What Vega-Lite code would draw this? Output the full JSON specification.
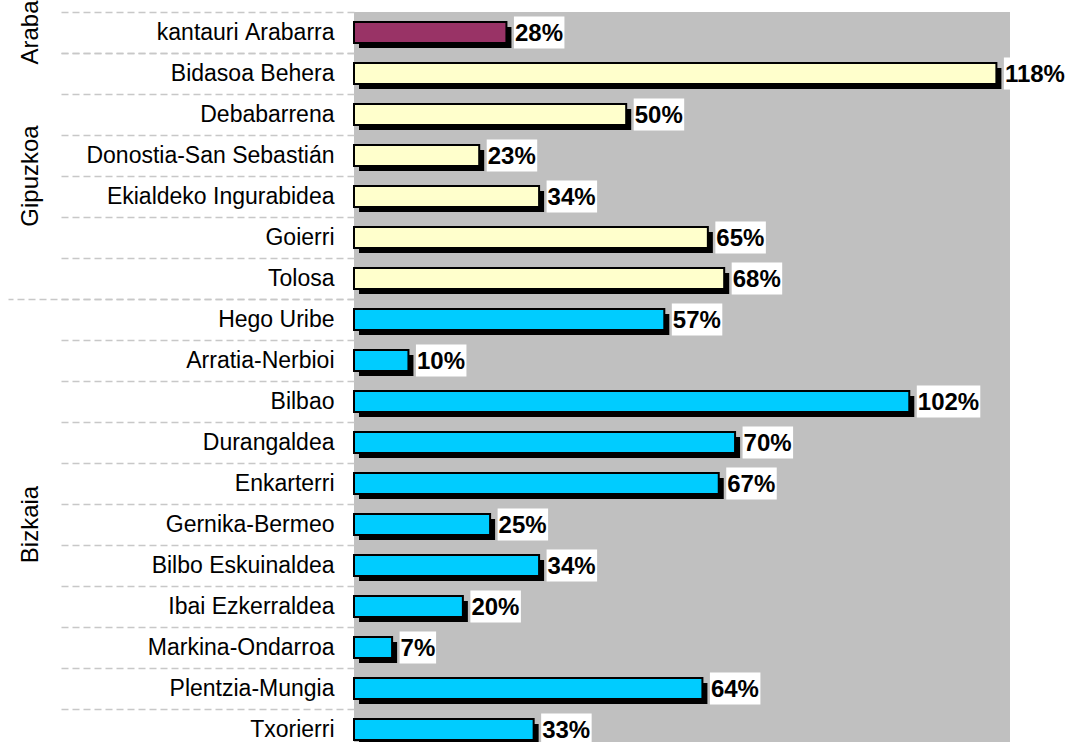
{
  "$schema": "https://vega.github.io/schema/vega-lite/v6.json",
  "padding": {"left": 7, "top": 0, "right": 0, "bottom": 0},
  "background": "white",
  "bounds": "flush",
  "data": {"values": [
    {"group": "Araba", "name": "kantauri Arabarra", "value": 0.28},
    {"group": "Gipuzkoa", "name": "Bidasoa Behera", "value": 1.18},
    {"group": "Gipuzkoa", "name": "Debabarrena", "value": 0.50},
    {"group": "Gipuzkoa", "name": "Donostia-San Sebastián ", "value": 0.23},
    {"group": "Gipuzkoa", "name": "Ekialdeko Ingurabidea", "value": 0.34},
    {"group": "Gipuzkoa", "name": "Goierri  ", "value": 0.65},
    {"group": "Gipuzkoa", "name": "Tolosa  ", "value": 0.68},
    {"group": "Bizkaia", "name": "Hego Uribe", "value": 0.57},
    {"group": "Bizkaia", "name": "Arratia-Nerbioi", "value": 0.10},
    {"group": "Bizkaia", "name": "Bilbao", "value": 1.02},
    {"group": "Bizkaia", "name": "Durangaldea", "value": 0.70},
    {"group": "Bizkaia", "name": "Enkarterri", "value": 0.67},
    {"group": "Bizkaia", "name": "Gernika-Bermeo  ", "value": 0.25},
    {"group": "Bizkaia", "name": "Bilbo Eskuinaldea", "value": 0.34},
    {"group": "Bizkaia", "name": "Ibai Ezkerraldea", "value": 0.20},
    {"group": "Bizkaia", "name": "Markina-Ondarroa  ", "value": 0.07},
    {"group": "Bizkaia", "name": "Plentzia-Mungia  ", "value": 0.64},
    {"group": "Bizkaia", "name": "Txorierri", "value": 0.33}
  ]},
  "facet": {
    "row": {
      "field": "group", "type": "nominal",
      "sort": ["Araba", "Gipuzkoa", "Bizkaia"],
      "header": {
        "title": null, "labelAngle": -90, "labelOrient": "left",
        "labelFont": "Liberation Sans", "labelFontSize": 24, "labelColor": "black",
        "labelPadding": 299,
        "labelExpr": "datum.label === 'Araba' ? 'Araba\u00a0\u00a0\u00a0\u00a0\u00a0' : datum.label"
      }
    }
  },
  "spacing": {"row": 0},
  "resolve": {"scale": {"y": "independent"}},
  "spec": {
    "width": 656,
    "height": {"step": 41},
    "encoding": {
      "y": {
        "field": "name", "type": "nominal", "sort": null,
        "scale": {"paddingInner": 0, "paddingOuter": 0},
        "axis": {
          "title": null, "domain": false, "grid": false,
          "tickBand": "extent", "ticks": true,
          "tickColor": "#c8c8c8", "tickWidth": 1.5, "tickDash": [7, 4],
          "tickSize": {"condition": {"test": "datum.value === 'Tolosa  '", "value": 346}, "value": 296},
          "labelPadding": {"condition": {"test": "datum.value === 'Tolosa  '", "value": -326}, "value": -276},
          "labelFont": "Liberation Sans", "labelFontSize": 23, "labelColor": "black",
          "labelLimit": 400,
          "labelExpr": "replace(datum.label, / /g, '\u00a0')"
        }
      },
      "x": {
        "field": "value", "type": "quantitative",
        "scale": {"domain": [0, 1.205], "nice": false, "zero": true},
        "axis": null
      }
    },
    "layer": [
      {"mark": {"type": "bar", "color": "black", "height": 21, "xOffset": 5, "x2Offset": 5, "yOffset": 5}},
      {
        "mark": {"type": "bar", "height": 21, "stroke": "black", "strokeWidth": 2},
        "encoding": {
          "color": {
            "field": "group", "type": "nominal",
            "scale": {"domain": ["Araba", "Gipuzkoa", "Bizkaia"], "range": ["#993366", "#FFFFCC", "#00CCFF"]},
            "legend": null
          }
        }
      },
      {
        "transform": [{"filter": "datum.value < 0.095"}],
        "mark": {"type": "bar", "color": "white", "height": 32, "xOffset": 7.5, "x2Offset": 44},
        "encoding": {"x2": {"field": "value"}}
      },
      {
        "transform": [{"filter": "datum.value >= 0.095 && datum.value < 0.995"}],
        "mark": {"type": "bar", "color": "white", "height": 32, "xOffset": 7.5, "x2Offset": 58},
        "encoding": {"x2": {"field": "value"}}
      },
      {
        "transform": [{"filter": "datum.value >= 0.995"}],
        "mark": {"type": "bar", "color": "white", "height": 32, "xOffset": 7.5, "x2Offset": 71},
        "encoding": {"x2": {"field": "value"}}
      },
      {
        "mark": {"type": "text", "align": "left", "baseline": "middle", "xOffset": 8.5, "dy": 1,
                 "font": "Liberation Sans", "fontWeight": "bold", "fontSize": 24, "color": "black"},
        "encoding": {"text": {"field": "value", "type": "quantitative", "format": ".0%"}}
      }
    ]
  },
  "config": {"view": {"fill": "#c0c0c0", "stroke": null}}
}
